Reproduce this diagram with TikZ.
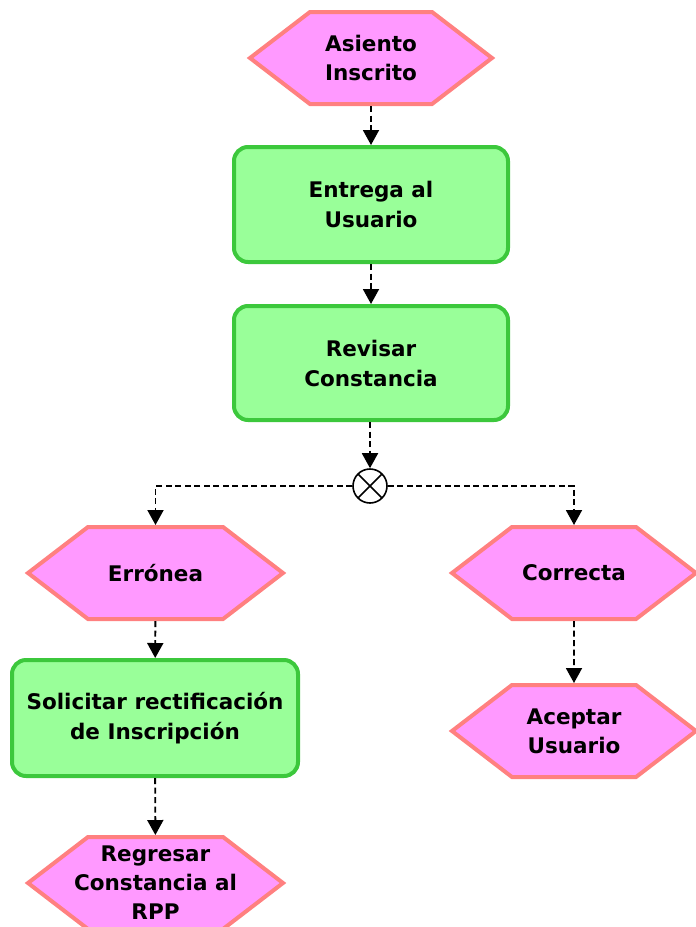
\documentclass[tikz,border=0pt]{standalone}
\usepackage{fontspec}
\setmainfont{DejaVu Sans}
\usetikzlibrary{shapes.symbols,arrows.meta}

\definecolor{eventfill}{RGB}{255,153,255}
\definecolor{eventline}{RGB}{255,128,128}
\definecolor{funcfill}{RGB}{153,255,153}
\definecolor{funcline}{RGB}{60,200,60}

\begin{document}
\begin{tikzpicture}[x=1pt,y=-1pt,
  eventnode/.style={shape=signal, signal to=west and east, signal pointer angle=75,
    draw=eventline, fill=eventfill, line width=4pt, inner sep=0pt, align=center,
    minimum height=92pt, font=\bfseries\fontsize{21.5}{29}\selectfont},
  funcnode/.style={shape=rectangle, rounded corners=14pt, draw=funcline, fill=funcfill,
    line width=4pt, inner sep=0pt, align=center, font=\bfseries\fontsize{21.5}{30}\selectfont},
  xornode/.style={shape=circle, draw, line width=1.6pt, minimum size=34pt, inner sep=0pt,
    path picture={\draw[line width=1.6pt] (path picture bounding box.north west) -- (path picture bounding box.south east)
      (path picture bounding box.north east) -- (path picture bounding box.south west);}},
  flow/.style={line width=1.9pt, dash pattern=on 6pt off 3.5pt, -{Triangle[width=16pt,length=15pt]}}
]
\useasboundingbox (0,0) rectangle (696,927);

% events
\node[eventnode, minimum width=242pt] (asiento) at (371,58) {Asiento\\Inscrito};
\node[eventnode, minimum width=255pt] (erronea) at (155.5,573) {Errónea};
\node[eventnode, minimum width=244pt] (correcta) at (574,573) {Correcta};
\node[eventnode, minimum width=244pt] (aceptar) at (574,731) {Aceptar\\Usuario};
\node[eventnode, minimum width=255pt, inner xsep=-15pt] (regresar) at (155.5,883) {Regresar\\Constancia al\\RPP};

% functions
\node[funcnode, minimum width=274pt, minimum height=115pt] (entrega) at (371,204.5) {Entrega al\\Usuario};
\node[funcnode, minimum width=274pt, minimum height=114pt] (revisar) at (371,363) {Revisar\\Constancia};
\node[funcnode, minimum width=286pt, minimum height=116pt] (solicitar) at (155,718) {Solicitar rectificación\\de Inscripción};

% connector
\node[xornode] (xor) at (370,486) {};

\draw[flow] (asiento) -- (entrega);
\draw[flow] (entrega) -- (revisar);
\draw[flow] (revisar.south -| xor) -- (xor);
\draw[flow] (xor.west) -| (erronea.north);
\draw[flow] (xor.east) -| (correcta.north);
\draw[flow] (erronea) -- (solicitar);
\draw[flow] (solicitar) -- (regresar);
\draw[flow] (correcta) -- (aceptar);

\end{tikzpicture}
\end{document}
